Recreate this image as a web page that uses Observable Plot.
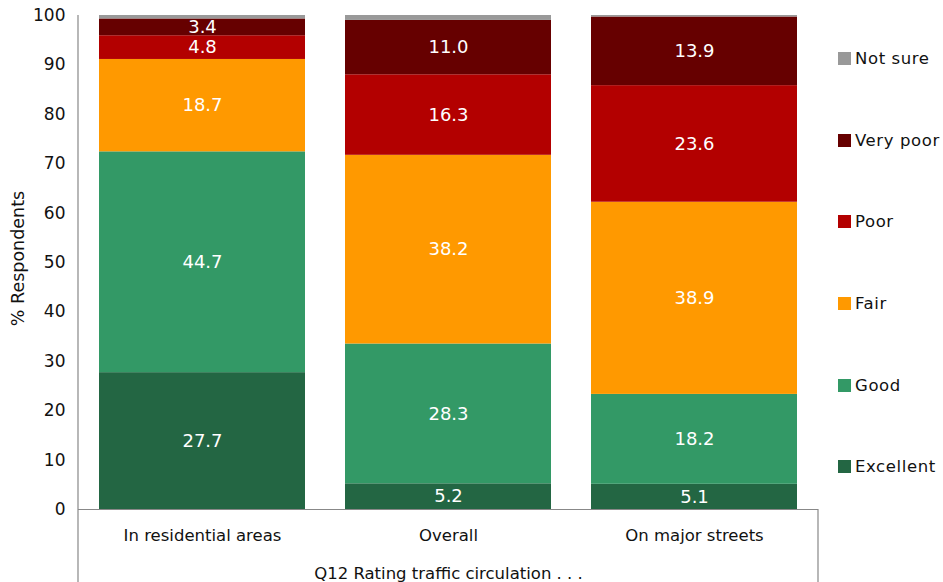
<!DOCTYPE html>
<html><head><meta charset="utf-8">
<script src="https://cdn.jsdelivr.net/npm/d3@7"></script>
<script src="https://cdn.jsdelivr.net/npm/@observablehq/plot@0.6"></script>
<style>
body{margin:0;background:#fff;font-family:"DejaVu Sans",sans-serif;}
#wrap{position:relative;width:943px;height:582px;overflow:hidden;}
#legend{position:absolute;left:838px;top:18px;}
.item{height:81.6px;display:flex;align-items:center;font-size:16.5px;color:#111;letter-spacing:0.6px;}
.sw{width:13px;height:13px;margin-right:4px;flex:none;}
</style>
</head><body><div id="wrap"><div id="legend"></div></div>
<script>
const categories = ["In residential areas", "Overall", "On major streets"];
const ratings = ["Excellent", "Good", "Fair", "Poor", "Very poor", "Not sure"];
const excellent = [27.7, 5.2, 5.1];
const good = [44.7, 28.3, 18.2];
const fair = [18.7, 38.2, 38.9];
const poor = [4.8, 16.3, 23.6];
const veryPoor = [3.4, 11.0, 13.9];
const notSure = [0.7, 1.0, 0.3];
const colors = ["#236643", "#339966", "#ff9900", "#b30000", "#660000", "#999999"];
const yTicks = [0, 10, 20, 30, 40, 50, 60, 70, 80, 90, 100];

const series = [excellent, good, fair, poor, veryPoor, notSure];
const data = [];
series.forEach((vals, i) => vals.forEach((v, j) => data.push({category: categories[j], rating: ratings[i], value: v})));

const W = 943, H = 582, mT = 15, mB = 73, mL = 78, mR = 125;

const chart = Plot.plot({
  width: W, height: H,
  marginTop: mT, marginBottom: mB, marginLeft: mL, marginRight: mR,
  style: {fontFamily: "DejaVu Sans", fontSize: "16px", color: "#111", background: "#fff"},
  x: {domain: categories, paddingInner: 0.163, paddingOuter: 0.085},
  y: {domain: [0, 100]},
  color: {domain: ratings, range: colors},
  marks: [
    Plot.barY(data, {x: "category", y: "value", fill: "rating"}),
    Plot.text(data, Plot.stackY({x: "category", y: "value", text: d => d.rating === "Not sure" ? null : d.value.toFixed(1), fill: "white", fontSize: 18})),
    Plot.ruleY([0], {stroke: "#888", strokeWidth: 1.2}),
    Plot.axisY({ticks: yTicks, tickSize: 0, tickPadding: 13, label: null, fontSize: 17}),
    Plot.text(["% Respondents"], {frameAnchor: "left", textAnchor: "middle", rotate: -90, dx: -60, dy: -4, fontSize: 17.5, fill: "#111", letterSpacing: 0.5}),
    Plot.axisX({tickSize: 0, tickPadding: 20, label: null, fontSize: 16.5}),
    Plot.text(["Q12 Rating traffic circulation . . ."], {frameAnchor: "bottom", dy: 69, fontSize: 16.5, fill: "#111"})
  ]
});

const svg = d3.select(chart);
svg.append("line").attr("x1", mL).attr("x2", mL).attr("y1", mT).attr("y2", H).attr("stroke", "#888").attr("stroke-width", 1.2);
svg.append("line").attr("x1", W - mR).attr("x2", W - mR).attr("y1", H - mB).attr("y2", H).attr("stroke", "#888").attr("stroke-width", 1.2);

document.getElementById("wrap").prepend(chart);

const legend = document.getElementById("legend");
ratings.slice().reverse().forEach((r) => {
  const i = ratings.indexOf(r);
  const it = document.createElement("div");
  it.className = "item";
  const sw = document.createElement("div");
  sw.className = "sw";
  sw.style.background = colors[i];
  it.appendChild(sw);
  it.appendChild(document.createTextNode(r));
  legend.appendChild(it);
});
</script>
</body></html>
